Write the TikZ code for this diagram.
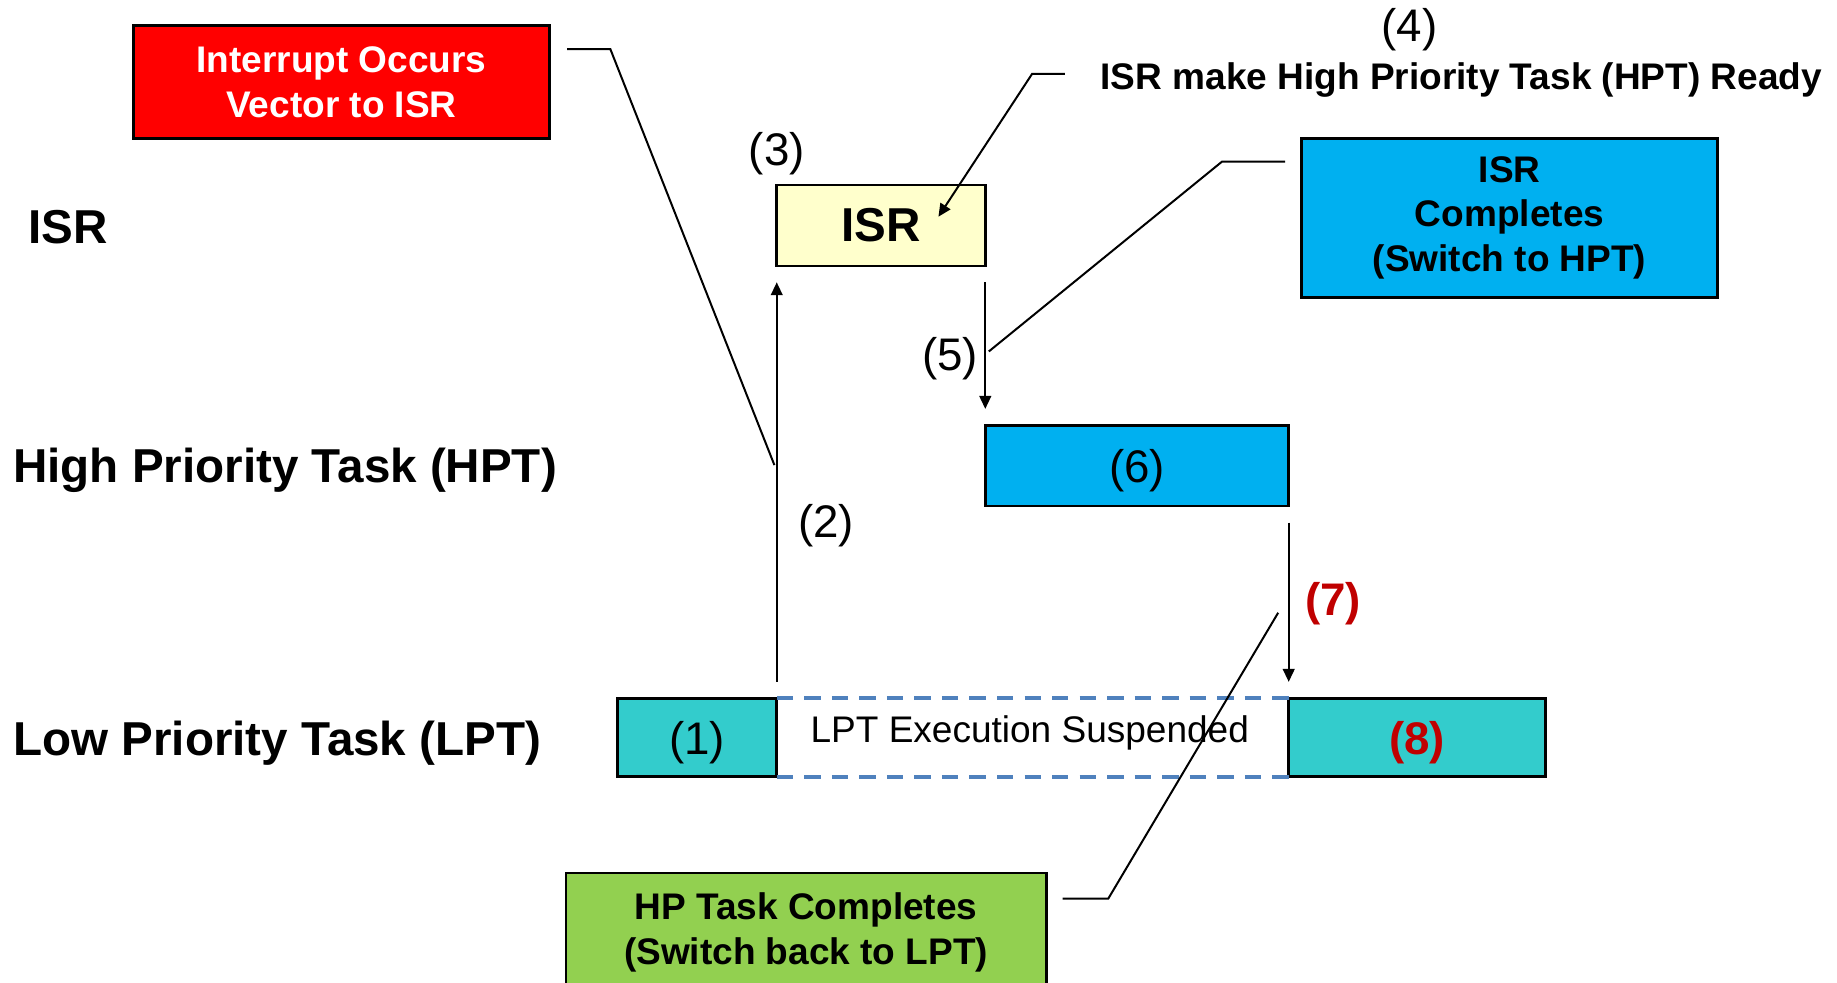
\documentclass[tikz,border=0pt]{standalone}
\usepackage{fontspec}
\setmainfont{Liberation Sans}
\usetikzlibrary{arrows.meta}
\definecolor{irqred}{HTML}{FF0000}
\definecolor{isryellow}{HTML}{FFFFCC}
\definecolor{hptblue}{HTML}{00B0F0}
\definecolor{lptteal}{HTML}{33CCCC}
\definecolor{donegreen}{HTML}{92D050}
\definecolor{suspblue}{HTML}{4F81BD}
\definecolor{stepred}{HTML}{C00000}
\begin{document}
\begin{tikzpicture}[x=0.5pt,y=-0.5pt,
  box/.style={draw=black,line width=1.1pt,inner sep=0pt,outer sep=0pt,anchor=north west},
  lanelabel/.style={font=\fontsize{20.3pt}{24pt}\selectfont\bfseries,anchor=base west,inner sep=0pt},
  steplabel/.style={font=\fontsize{19.5pt}{23pt}\selectfont,inner sep=0pt},
  redstep/.style={inner sep=0pt,font=\fontsize{19.5pt}{23pt}\selectfont\bfseries,text=stepred},
  boxnum/.style={text depth=0pt},
  note/.style={font=\fontsize{15.8pt}{19pt}\selectfont\bfseries,align=center},
  callout/.style={line width=0.85pt},
  tip/.style={-{Triangle[length=5.5pt,width=5pt]}},
  flow/.style={line width=0.8pt,tip,shorten <=7pt,shorten >=7pt},
]
\useasboundingbox (0,0) rectangle (1568,839);
\clip (0,0) rectangle (1568,839);
\fill[white] (0,0) rectangle (1568,839);

% lane titles
\node[lanelabel] (laneisr) at (24,208) {ISR};
\node[lanelabel] (lanehpt) at (11,412) {High Priority Task (HPT)};
\node[lanelabel] (lanelpt) at (11,645) {Low Priority Task (LPT)};

% execution blocks
\node[box,fill=isryellow,minimum width=89pt,minimum height=34.5pt,
      font=\fontsize{20.3pt}{24pt}\selectfont\bfseries] (isr) at (663,158) {ISR};
\node[box,fill=hptblue,minimum width=129.5pt,minimum height=34.5pt,steplabel,boxnum] (hpt) at (841,363) {(6)};
\node[box,fill=lptteal,minimum width=68pt,minimum height=33.5pt,steplabel,boxnum] (lpt1) at (527,596) {(1)};
\node[box,fill=lptteal,minimum width=109.5pt,minimum height=33.5pt,redstep,boxnum] (lpt8) at (1100,596) {(8)};

% suspended interval of the low priority task
\draw[suspblue,line width=1.8pt,dash pattern=on 7pt off 4.75pt]
  (lpt1.north east) -- (lpt8.north west)
  (lpt1.south east) -- (lpt8.south west);
\node[font=\fontsize{15.8pt}{19pt}\selectfont,inner sep=0pt] (susp) at (879,626) {LPT Execution Suspended};

% event boxes
\node[box,note,fill=irqred,text=white,minimum width=177.5pt,minimum height=48pt] (irq) at (114,22)
  {Interrupt Occurs\\Vector to ISR};
\node[box,note,fill=hptblue,minimum width=177.5pt,minimum height=68pt] (isrdone) at (1111,118)
  {ISR\\Completes\\(Switch to HPT)};
\node[box,note,fill=donegreen,minimum width=205pt,minimum height=51pt] (hpdone) at (483,745)
  {HP Task Completes\\(Switch back to LPT)};
\node[note,anchor=base west,inner sep=0pt] (ready) at (939,76) {ISR make High Priority Task (HPT) Ready};

% step numbers
\node[steplabel] (s3) at (663,131) {(3)};
\node[steplabel] (s4) at (1203,25) {(4)};
\node[steplabel] (s2) at (705,449) {(2)};
\node[steplabel] (s5) at (811,306) {(5)};
\node[redstep] (s7) at (1138,515) {(7)};

% context switches
\draw[flow] (lpt1.north east) -- (isr.south west);
\draw[flow] (isr.south east) -- (hpt.north west);
\draw[flow] (hpt.south east) -- (lpt8.north west);

% callout leaders
\coordinate (irqknee) at (521,42);
\coordinate (irqend) at (661,397);
\draw[callout,shorten <=7.5pt] (irq.east |- irqknee) -- (irqknee) -- (irqend);

\coordinate (readyknee) at (881,63);
\coordinate (readytip) at (801,185);
\draw[callout,tip,shorten <=15pt] (ready.west |- readyknee) -- (readyknee) -- (readytip);

\coordinate (doneknee) at (1043,138);
\coordinate (doneend) at (844,300);
\draw[callout,shorten <=7pt] (isrdone.west |- doneknee) -- (doneknee) -- (doneend);

\coordinate (backknee) at (946,767);
\coordinate (backend) at (1091,523);
\draw[callout,shorten <=7pt] (hpdone.east |- backknee) -- (backknee) -- (backend);
\end{tikzpicture}
\end{document}
